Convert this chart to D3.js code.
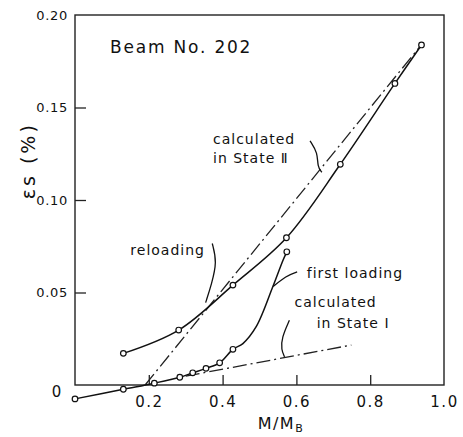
<!DOCTYPE html>
<html>
<head>
<meta charset="utf-8">
<script src="https://cdn.jsdelivr.net/npm/d3@7"></script>
<style>
  html, body { margin: 0; padding: 0; background: #fff; }
  svg { display: block; }
  text { font-family: "DejaVu Sans", sans-serif; fill: #111; }
</style>
</head>
<body>
<div id="chart"></div>
<script>
// ---- data ----
const xTicks = [0.2, 0.4, 0.6, 0.8, 1.0];
const xTickLabels = ["0.2", "0.4", "0.6", "0.8", "1.0"];
const yTicks = [0, 0.05, 0.10, 0.15, 0.20];
const yTickLabels = ["0", "0.05", "0.10", "0.15", "0.20"];

// first loading (measured points)
const firstLoadX = [0.0, 0.131, 0.215, 0.284, 0.319, 0.355, 0.392, 0.428, 0.574];
const firstLoadY = [-0.0075, -0.0023, 0.001, 0.0042, 0.0066, 0.009, 0.012, 0.0193, 0.072];
// traced shape of the curve between the last two measured points
const firstLoadTraceX = [0.455, 0.491, 0.536, 0.564];
const firstLoadTraceY = [0.0224, 0.0315, 0.0531, 0.0676];

// reloading (measured points)
const reloadX = [0.131, 0.281, 0.428, 0.573, 0.719, 0.867, 0.939];
const reloadY = [0.0171, 0.0297, 0.054, 0.0796, 0.1193, 0.163, 0.1838];

// calculated lines (dash-dot)
const stateIIX = [0.19, 0.935];
const stateIIY = [0.0, 0.183];
const stateIX = [0.30, 0.749];
const stateIY = [0.0048, 0.0216];

// annotation texts
const labels = [
  {text: "Beam No. 202", x: 0.095, y: 0.1795, size: 17, ls: 1.8},
  {text: "calculated", x: 0.374, y: 0.1305, size: 14, ls: 1},
  {text: "in State \u2161", x: 0.374, y: 0.1200, size: 14, ls: 1},
  {text: "reloading", x: 0.150, y: 0.0705, size: 14, ls: 1},
  {text: "first loading", x: 0.628, y: 0.0580, size: 14, ls: 1},
  {text: "calculated", x: 0.595, y: 0.0420, size: 14, ls: 1},
  {text: "in State I", x: 0.655, y: 0.0307, size: 14, ls: 1}
];
// leader squiggles (data units)
const leaderReloadX = [0.372, 0.385, 0.370, 0.354];
const leaderReloadY = [0.0765, 0.0665, 0.0545, 0.0445];
const leaderIIX = [0.637, 0.658, 0.657, 0.669];
const leaderIIY = [0.1320, 0.1255, 0.1180, 0.1150];
const leaderFirstX = [0.602, 0.572, 0.537];
const leaderFirstY = [0.0611, 0.0590, 0.0532];
const leaderIX = [0.581, 0.560, 0.559, 0.568];
const leaderIY = [0.0350, 0.0255, 0.0190, 0.0152];

// ---- drawing ----
const W = 463, H = 437;
const padL = 75, padR = 444, padT = 15, padB = 385;

const svg = d3.select("#chart").append("svg")
  .attr("width", W).attr("height", H);

const x = d3.scaleLinear().domain([0, 1]).range([padL, padR]);
const y = d3.scaleLinear().domain([0, 0.2]).range([padB, padT]);

const zip = (xs, ys) => xs.map((v, i) => ({x: v, y: ys[i]}));

// frame
svg.append("rect")
  .attr("x", x(0)).attr("y", y(0.2))
  .attr("width", x(1) - x(0)).attr("height", y(0) - y(0.2))
  .attr("fill", "none").attr("stroke", "#222").attr("stroke-width", 1.4);

// x axis (ticks pointing inward)
const xAxis = d3.axisBottom(x).tickValues(xTicks)
  .tickFormat((d, i) => xTickLabels[i]).tickSizeInner(-10).tickSizeOuter(0).tickPadding(11);
const gx = svg.append("g").attr("transform", `translate(0,${y(0)})`).call(xAxis);
gx.select(".domain").remove();
gx.selectAll(".tick line").attr("stroke", "#222").attr("stroke-width", 1.3)
  .filter(d => d === 1.0).remove();
gx.selectAll(".tick text").attr("font-size", 15).attr("letter-spacing", 1.5)
  .attr("font-family", "DejaVu Sans").attr("fill", "#111");

// y axis (ticks pointing inward)
const yAxis = d3.axisLeft(y).tickValues(yTicks)
  .tickFormat((d, i) => yTickLabels[i]).tickSizeInner(-11).tickSizeOuter(0).tickPadding(7);
const gy = svg.append("g").attr("transform", `translate(${x(0)},0)`).call(yAxis);
gy.select(".domain").remove();
gy.selectAll(".tick line").attr("stroke", "#222").attr("stroke-width", 1.3)
  .filter(d => d === 0 || d === 0.2).remove();
gy.selectAll(".tick text").attr("font-size", 13).attr("letter-spacing", 0.7)
  .attr("font-family", "DejaVu Sans").attr("fill", "#111");
gy.selectAll(".tick text").filter(d => d === 0)
  .attr("transform", "translate(-6,7)").attr("font-size", 15);

// axis titles
const xt = svg.append("text")
  .attr("x", (x(0.5) + x(0.6)) / 2 + 3).attr("y", y(0) + 44)
  .attr("text-anchor", "middle").attr("font-size", 16).attr("letter-spacing", 1.5);
xt.append("tspan").text("M/M");
xt.append("tspan").text("B").attr("font-size", 11).attr("dy", 3);

svg.append("text")
  .attr("transform", `translate(35,${(y(0.10) + y(0.15)) / 2 + 7}) rotate(-90)`)
  .attr("text-anchor", "middle").attr("font-size", 19).attr("letter-spacing", 3)
  .text("\u025Bs (%)");

// lines
const line = d3.line().x(d => x(d.x)).y(d => y(d.y));
const curve = d3.line().x(d => x(d.x)).y(d => y(d.y)).curve(d3.curveCatmullRom.alpha(0.5));

// calculated (dash-dot)
svg.append("path").datum(zip(stateIIX, stateIIY)).attr("d", line)
  .attr("fill", "none").attr("stroke", "#222").attr("stroke-width", 1.3)
  .attr("stroke-dasharray", "14,4,2,4");
svg.append("path").datum(zip(stateIX, stateIY)).attr("d", line)
  .attr("fill", "none").attr("stroke", "#222").attr("stroke-width", 1.3)
  .attr("stroke-dasharray", "14,4,2,4");

// first loading
const flPts = zip(firstLoadX, firstLoadY);
const flCurve = flPts.slice(0, 8).concat(zip(firstLoadTraceX, firstLoadTraceY), flPts.slice(8));
svg.append("path").datum(flCurve).attr("d", curve)
  .attr("fill", "none").attr("stroke", "#111").attr("stroke-width", 1.5);

// reloading
const rlPts = zip(reloadX, reloadY);
svg.append("path").datum(rlPts).attr("d", curve)
  .attr("fill", "none").attr("stroke", "#111").attr("stroke-width", 1.5);

// markers
svg.append("g").selectAll("circle").data(flPts.concat(rlPts)).join("circle")
  .attr("cx", d => x(d.x)).attr("cy", d => y(d.y)).attr("r", 2.8)
  .attr("fill", "#fff").attr("stroke", "#111").attr("stroke-width", 1.2);

// leaders
const leaderLine = d3.line().x(d => x(d.x)).y(d => y(d.y)).curve(d3.curveBasis);
[[leaderReloadX, leaderReloadY], [leaderIIX, leaderIIY],
 [leaderFirstX, leaderFirstY], [leaderIX, leaderIY]].forEach(([lx, ly]) => {
  svg.append("path").datum(zip(lx, ly)).attr("d", leaderLine)
    .attr("fill", "none").attr("stroke", "#111").attr("stroke-width", 1.3);
});

// annotation text
svg.append("g").selectAll("text").data(labels).join("text")
  .attr("x", d => x(d.x)).attr("y", d => y(d.y))
  .attr("font-size", d => d.size).attr("letter-spacing", d => d.ls)
  .text(d => d.text);
</script>
</body>
</html>
